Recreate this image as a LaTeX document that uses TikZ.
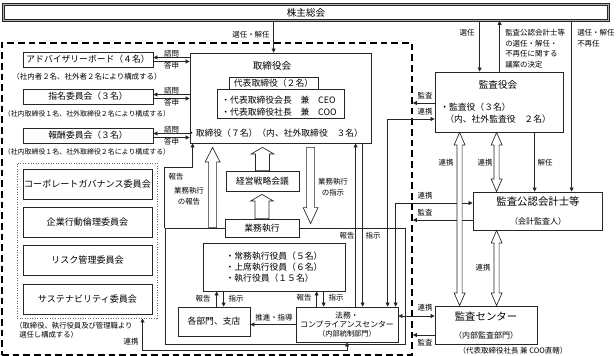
\documentclass[tikz,border=0pt]{standalone}
\usepackage{fontspec}
\setmainfont{Noto Sans CJK JP}
\usetikzlibrary{positioning,arrows.meta,calc}

\newcommand{\ttlsize}{\fontsize{7.2pt}{8.6pt}\selectfont}
\newcommand{\bigsize}{\fontsize{7.8pt}{9pt}\selectfont}
\newcommand{\boxsize}{\fontsize{6.6pt}{8.25pt}\selectfont}
\newcommand{\cmtsize}{\fontsize{6.8pt}{8pt}\selectfont}
\newcommand{\smlsize}{\fontsize{5.9pt}{6.4pt}\selectfont}
\newcommand{\subsize}{\fontsize{6pt}{7pt}\selectfont}
\newcommand{\lblsize}{\fontsize{5.6pt}{8pt}\selectfont}
\newcommand{\notesize}{\fontsize{5.2pt}{6pt}\selectfont}

% hollow block arrow: from, to, shaft half width, head half width, head length
\newcommand{\blkarrow}[5]{%
  \draw[hollow] let \p1=#1, \p2=#2, \n1={ifthenelse(\y2>\y1,1,-1)} in
    ({\x1-#3},\y1) -- ({\x1-#3},{\y2-\n1*#5}) -- ({\x1-#4},{\y2-\n1*#5}) -- (\x1,\y2)
    -- ({\x1+#4},{\y2-\n1*#5}) -- ({\x1+#3},{\y2-\n1*#5}) -- ({\x1+#3},\y1) -- cycle;}
\newcommand{\blkarrowboth}[5]{%
  \draw[hollow] let \p1=#1, \p2=#2, \n1={ifthenelse(\y2>\y1,1,-1)} in
    (\x1,\y1) -- ({\x1-#4},{\y1+\n1*#5}) -- ({\x1-#3},{\y1+\n1*#5}) -- ({\x1-#3},{\y2-\n1*#5})
    -- ({\x1-#4},{\y2-\n1*#5}) -- (\x1,\y2) -- ({\x1+#4},{\y2-\n1*#5}) -- ({\x1+#3},{\y2-\n1*#5})
    -- ({\x1+#3},{\y1+\n1*#5}) -- ({\x1+#4},{\y1+\n1*#5}) -- cycle;}

\tikzset{
  line/.style={draw=black!85, line width=0.5pt},
  arr/.style={line, -{Triangle[length=3pt,width=3pt]}},
  arrboth/.style={line, {Triangle[length=3pt,width=3pt]}-{Triangle[length=3pt,width=3pt]}},
  hollow/.style={draw=black!85, line width=0.5pt, fill=white},
  box/.style={draw=black!85, line width=0.6pt, fill=white, inner sep=0pt, font=\boxsize, align=center},
  outerbox/.style={draw=black, line width=1.3pt, dash pattern=on 5pt off 3pt},
  dotbox/.style={draw=black!60, line width=0.7pt, dash pattern=on 0.7pt off 1.2pt},
  kabubox/.style={draw=black!85, line width=0.5pt, double=black!30, double distance=1.2pt, inner sep=0pt, font=\ttlsize},
  lbl/.style={inner sep=0pt, font=\lblsize},
  ttl/.style={inner sep=0pt, font=\ttlsize},
  txt/.style={inner sep=0pt, font=\boxsize}
}

\begin{document}
\begin{tikzpicture}[x=0.75pt, y=-0.75pt]
\useasboundingbox (0,0) rectangle (616,356);

% frames
\node[outerbox, minimum width=307.5pt, minimum height=234pt] (outer) at (207,199) {};
\node[kabubox, minimum width=453.75pt, minimum height=12pt] (kabu) at (306,12.5) {株主総会};

% board of directors
\node[box, minimum width=135.75pt, minimum height=67.5pt] (torikai) at (280.5,98) {};
\node[ttl] (torititle) at (272,66) {取締役会};
\node[box, minimum width=95.25pt, minimum height=21.75pt] (daihyo) at (280.5,103.5) {};
\node[box, minimum width=66.75pt, minimum height=9pt] (daihyotab) at (273.5,83) {代表取締役（２名）};
\node[txt, align=left, font=\fontsize{6.6pt}{9pt}\selectfont] (daihyotext) at (279,106) {・代表取締役会長　兼　CEO\\・代表取締役社長　兼　COO};
\node[txt] (torimember) at (275,133) {・取締役（７名）（内、社外取締役　３名）};

% advisory committees
\node[box, minimum width=97.5pt, minimum height=11.25pt] (adv) at (88,59.5) {アドバイザリーボード（４名）};
\node[lbl] (advnote) at (87,77) {（社内者２名、社外者２名により構成する）};
\node[box, minimum width=97.5pt, minimum height=11.25pt] (shimei) at (88,96.5) {指名委員会（３名）};
\node[lbl, font=\notesize] (shimeinote) at (87,114) {（社内取締役１名、社外取締役２名により構成する）};
\node[box, minimum width=97.5pt, minimum height=11.25pt] (hoshu) at (88,135.5) {報酬委員会（３名）};
\node[lbl, font=\notesize] (hoshunote) at (87,152) {（社内取締役１名、社外取締役２名により構成する）};

\foreach \c in {adv,shimei,hoshu}{
  \draw[arr] ($(torikai.west |- \c.east)+(0,-2)$) -- ($(\c.east)+(0,-2)$)
    node[lbl, midway, above=0pt] (\c-q) {諮問};
  \draw[arr] ($(\c.east)+(0,2)$) -- ($(torikai.west |- \c.east)+(0,2)$)
    node[lbl, midway, below=0.5pt] (\c-a) {答申};
}

% internal committees
\node[dotbox, minimum width=105pt, minimum height=116.25pt] (iinkai) at (87,240.5) {};
\node[box, minimum width=96.75pt, minimum height=22.5pt, font=\cmtsize] (cg) at (87.5,184) {コーポレートガバナンス委員会};
\node[box, minimum width=96.75pt, minimum height=22.5pt, font=\cmtsize] (rinri) at (87.5,222) {企業行動倫理委員会};
\node[box, minimum width=96.75pt, minimum height=22.5pt, font=\cmtsize] (risk) at (87.5,260.5) {リスク管理委員会};
\node[box, minimum width=96.75pt, minimum height=22.5pt, font=\cmtsize] (sust) at (87.5,299) {サステナビリティ委員会};
\node[lbl, anchor=north west, align=left, font=\fontsize{5.5pt}{6.8pt}\selectfont] (iinkainote) at (15,322) {（取締役、執行役員及び管理職より\\\hspace{3pt}選任し構成する）};

% execution
\node[box, fill=none, minimum width=180pt, minimum height=87pt] (gyoframe) at (285,286) {};
\node[box, minimum width=54.75pt, minimum height=15pt] (keiei) at (262.5,181) {経営戦略会議};
\node[box, minimum width=55.5pt, minimum height=13.5pt] (gyomu) at (262,228) {業務執行};
\node[box, minimum width=106.5pt, minimum height=36pt, align=left] (yakuin) at (274,267) {・常務執行役員（５名）\\・上席執行役員（６名）\\・執行役員（１５名）};
\node[box, minimum width=54pt, minimum height=21.75pt] (bumon) at (214,321.5) {各部門、支店};
\node[box, minimum width=76.5pt, minimum height=26.25pt, font=\smlsize] (homu) at (347,324.5) {法務・\\コンプライアンスセンター\\{\fontsize{5.4pt}{6.4pt}\selectfont（内部統制部門）}};

% audit
\node[box, minimum width=96pt, minimum height=45pt] (kansayaku) at (499,102) {};
\node[ttl] (kansayakutitle) at (498,85) {監査役会};
\node[txt, anchor=west] (kansayaku1) at (440,107) {・監査役（３名）};
\node[txt, anchor=west] (kansayaku2) at (445,119) {（内、社外監査役　２名）};
\node[box, minimum width=96.75pt, minimum height=28.5pt] (kaikei) at (537.5,211) {};
\node[inner sep=0pt, font=\bigsize] (kaikeititle) at (538,202) {監査公認会計士等};
\node[inner sep=0pt, font=\subsize] (kaikeisub) at (538,221) {（会計監査人）};
\node[box, minimum width=76.5pt, minimum height=28.5pt] (kcenter) at (486,325) {};
\node[inner sep=0pt, font=\bigsize] (kcentertitle) at (486,316) {監査センター};
\node[inner sep=0pt, font=\subsize] (kcentersub) at (486,335) {（内部監査部門）};
\node[lbl] (kcenternote) at (513,351) {（代表取締役社長 兼 COO直轄）};

% shareholders meeting
\coordinate (senkaiX) at ($(torikai.north west)+(84,0)$);
\draw[arr] (senkaiX |- kabu.south) -- (senkaiX);
\node[lbl] (senkailbl) at (251,35) {選任・解任};
\coordinate (senninX) at ($(kansayaku.north west)+(45,0)$);
\draw[arr] (senninX |- kabu.south) -- (senninX);
\node[lbl] (senninlbl) at (467,33) {選任};
\coordinate (gianX) at ($(kansayaku.north west)+(65,0)$);
\draw[arr] (gianX) -- (gianX |- kabu.south);
\node[lbl, anchor=north west, align=left] (gianlbl) at (505,29) {監査公認会計士等\\の選任・解任・\\不再任に関する\\議案の決定};
\coordinate (funinX) at ($(kaikei.north west)+(99,0)$);
\draw[arr] (funinX |- kabu.south) -- (funinX);
\node[lbl, anchor=north west, align=left] (funinlbl) at (577,29) {選任・解任\\不再任};
\coordinate (kaininX) at ($(kansayaku.south west)+(100,0)$);
\draw[arr] (kaininX) -- (kaininX |- kaikei.north);
\node[lbl] (kaininlbl) at (545,163) {解任};

% board <-> execution
\draw[arr] (gyoframe.north west) -- ++(0,-60) -| ($(torikai.south west)+(3,0)$);
\node[lbl] (hokokuA) at (176,177) {報告};
\blkarrow{($(gyoframe.north west)+(48,0)$)}{($(torikai.south)+(0,4)$)}{3pt}{5.6pt}{11pt}
\node[lbl, align=center] (gyohokoku) at (189,196) {業務執行\\の報告};
\blkarrow{(keiei.north)}{($(torikai.south)+(0,4)$)}{5.25pt}{8.6pt}{5pt}
\blkarrow{(gyomu.north)}{($(keiei.south)+(0,3)$)}{5.25pt}{8.6pt}{5pt}
\blkarrow{($(torikai.south west)+(121,4)$)}{($(gyoframe.north)+(0,-4)$)}{3pt}{5.6pt}{12pt}
\node[lbl, align=center] (gyoshiji) at (333,187) {業務執行\\の指示};

% legal center links
\coordinate (houX) at ($(homu.north west)+(60,0)$);
\draw[arr] (houX) -- (houX |- torikai.south);
\coordinate (shiX) at ($(homu.north west)+(67,0)$);
\draw[arr] (shiX |- torikai.south) -- (shiX);
\node[lbl] (hokokuB) at (347,236) {報告};
\node[lbl] (shijiB) at (373,236) {指示};
\draw[arrboth] ($(homu.north west)+(92,0)$) |- ($(kansayaku.west)+(0,17)$);
\draw[arrboth] ($(homu.north west)+(100,0)$) |- ($(kaikei.west)+(0,-8)$);
\draw[arr] ($(kansayaku.west)+(0,1)$) coordinate (kansaA) -- (kansaA -| outer.east);
\node[lbl] (kansaAlbl) at (425,96) {監査};
\node[lbl] (renkeiA) at (425,112) {連携};
\draw[arr] ($(kaikei.west)+(0,9)$) coordinate (kansaB) -- (kansaB -| outer.east);
\node[lbl] (renkeiB) at (425,196) {連携};
\node[lbl] (kansaBlbl) at (425,213) {監査};
\draw[arrboth] ($(homu.east)+(0,-8.5)$) -- (kcenter.west |- {$(homu.east)+(0,-8.5)$});
\node[lbl] (renkeiC) at (425,308) {連携};
\draw[arr] ($(kcenter.west)+(0,10)$) coordinate (kansaC) -- (kansaC -| outer.east);
\node[lbl] (kansaClbl) at (425,343) {監査};

% audit links
\blkarrowboth{($(kansayaku.south west)+(25,0)$)}{(kcenter.north)}{1.9pt}{4.1pt}{9.5pt}
\blkarrowboth{($(kansayaku.south west)+(62,0)$)}{(kaikei.north)}{1.9pt}{4.1pt}{9.5pt}
\blkarrowboth{($(kaikei.south west)+(24,0)$)}{(kcenter.north)}{1.9pt}{4.1pt}{9.5pt}
\node[lbl] (renkeiD) at (446,163) {連携};
\node[lbl] (renkeiE) at (485,163) {連携};
\node[lbl] (renkeiF) at (483,268) {連携};

% execution inner links
\draw[arr] (homu.west) -- (homu.west -| bumon.east);
\node[lbl] (suishin) at (274,318) {推進・指導};
\coordinate (bhX) at ($(bumon.north west)+(39,0)$);
\draw[arr] (bhX) -- (bhX |- yakuin.south);
\coordinate (bsX) at ($(bumon.north west)+(46,0)$);
\draw[arr] (bsX |- yakuin.south) -- (bsX);
\node[lbl] (hokokuC) at (203,299) {報告};
\node[lbl] (shijiC) at (236,299) {指示};
\coordinate (hhX) at ($(homu.north west)+(21,0)$);
\draw[arr] (hhX) -- (hhX |- yakuin.south);
\coordinate (hsX) at ($(homu.north west)+(28,0)$);
\draw[arr] (hsX |- yakuin.south) -- (hsX);
\node[lbl] (hokokuD) at (304,298) {報告};
\node[lbl] (shijiD) at (336,298) {指示};
\draw[arrboth] ($(iinkai.south west)+(126,0)$) -- ++(0,32) -| (homu.south);
\node[lbl] (renkeiG) at (131,342) {連携};
\end{tikzpicture}
\end{document}
